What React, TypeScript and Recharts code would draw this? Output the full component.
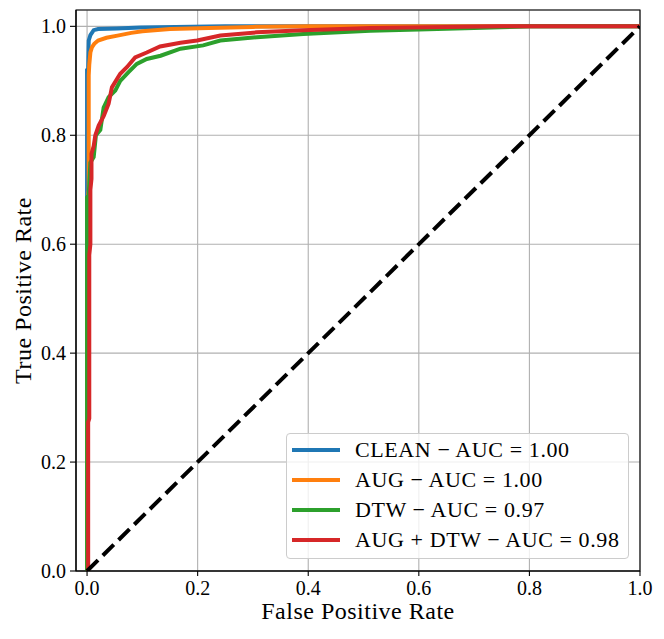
import React from "react";
import {
  CartesianGrid,
  Line,
  LineChart,
  ReferenceArea,
  XAxis,
  YAxis,
} from "recharts";

const FONT = '"Liberation Serif", "Times New Roman", serif';

// ROC points (false positive rate, true positive rate)
const cleanFpr = [0, 0, 0.002, 0.003, 0.006, 0.012, 0.02, 0.054, 0.096, 0.16, 0.25, 1];
const cleanTpr = [0, 0.92, 0.922, 0.974, 0.984, 0.993, 0.995, 0.996, 0.998, 0.999, 1, 1];

const augFpr = [0, 0, 0.001, 0.001, 0.002, 0.002, 0.003, 0.003, 0.004, 0.006, 0.009, 0.013, 0.02, 0.035, 0.055, 0.08, 0.1, 0.15, 0.22, 0.3, 0.4, 1];
const augTpr = [0, 0.5, 0.51, 0.56, 0.57, 0.69, 0.7, 0.91, 0.93, 0.952, 0.962, 0.968, 0.974, 0.979, 0.983, 0.988, 0.991, 0.995, 0.997, 0.999, 1, 1];

const dtwFpr = [0, 0, 0.003, 0.006, 0.012, 0.016, 0.024, 0.03, 0.039, 0.051, 0.06, 0.075, 0.09, 0.108, 0.133, 0.169, 0.21, 0.241, 0.307, 0.391, 0.512, 0.6, 0.7, 0.8, 1];
const dtwTpr = [0, 0.686, 0.69, 0.75, 0.76, 0.8, 0.81, 0.851, 0.87, 0.882, 0.9, 0.916, 0.931, 0.94, 0.946, 0.959, 0.965, 0.974, 0.98, 0.986, 0.992, 0.994, 0.997, 1, 1];

const augDtwFpr = [0, 0.002, 0.002, 0.004, 0.004, 0.006, 0.006, 0.008, 0.008, 0.012, 0.015, 0.021, 0.03, 0.039, 0.045, 0.06, 0.072, 0.087, 0.108, 0.132, 0.169, 0.199, 0.241, 0.307, 0.391, 0.512, 0.65, 0.75, 1];
const augDtwTpr = [0, 0, 0.273, 0.28, 0.58, 0.6, 0.7, 0.72, 0.766, 0.78, 0.8, 0.818, 0.835, 0.858, 0.888, 0.913, 0.925, 0.943, 0.952, 0.963, 0.97, 0.974, 0.983, 0.989, 0.993, 0.997, 0.999, 1, 1];

const chanceFpr = [0, 1];
const chanceTpr = [0, 1];

const seriesNames = [
  "CLEAN − AUC = 1.00",
  "AUG − AUC = 1.00",
  "DTW − AUC = 0.97",
  "AUG + DTW − AUC = 0.98",
];
const seriesColors = ["#1f77b4", "#ff7f0e", "#2ca02c", "#d62728"];

const ticks = [0, 0.2, 0.4, 0.6, 0.8, 1];

const zip = (xs: number[], ys: number[]) => xs.map((x, i) => ({ x, y: ys[i] }));

const series = [
  zip(cleanFpr, cleanTpr),
  zip(augFpr, augTpr),
  zip(dtwFpr, dtwTpr),
  zip(augDtwFpr, augDtwTpr),
];

function RocLegend() {
  return (
    <div
      style={{
        position: "absolute",
        left: 286,
        top: 433,
        width: 343,
        boxSizing: "border-box",
        border: "1px solid #cccccc",
        borderRadius: 4,
        background: "rgba(255,255,255,0.8)",
        padding: "1px 0 3px 0",
        fontFamily: FONT,
        fontSize: 22,
        color: "#000",
      }}
    >
      {seriesNames.map((name, i) => (
        <div key={name} style={{ display: "flex", alignItems: "center", height: 30 }}>
          <div
            style={{
              marginLeft: 5,
              width: 48,
              height: 4,
              background: seriesColors[i],
            }}
          />
          <span style={{ marginLeft: 15, whiteSpace: "nowrap", letterSpacing: 0.6 }}>{name}</span>
        </div>
      ))}
    </div>
  );
}

export default function App() {
  return (
    <div style={{ position: "absolute", left: 0, top: 0, width: 664, height: 639, background: "#fff" }}>
      <LineChart width={664} height={639} margin={{ top: 10, right: 24, bottom: 0, left: 0 }}>
        <CartesianGrid stroke="#b0b0b0" strokeWidth={1.1} />
        <XAxis
          type="number"
          dataKey="x"
          domain={[-0.02, 1]}
          ticks={ticks}
          allowDataOverflow
          height={68}
          tickSize={5}
          tickMargin={5}
          tickFormatter={(v: number) => v.toFixed(1)}
          tick={{ fill: "#000", fontSize: 20, fontFamily: FONT }}
          tickLine={{ stroke: "#000", strokeWidth: 1.1 }}
          axisLine={{ stroke: "#000", strokeWidth: 1.1 }}
          label={{
            value: "False Positive Rate",
            position: "insideBottom",
            offset: 20,
            style: { fill: "#000", fontSize: 24, fontFamily: FONT, letterSpacing: 0.5 },
          }}
        />
        <YAxis
          type="number"
          dataKey="y"
          domain={[0, 1.03]}
          ticks={ticks}
          allowDataOverflow
          width={76}
          tickSize={6}
          tickMargin={4}
          tickFormatter={(v: number) => v.toFixed(1)}
          tick={{ fill: "#000", fontSize: 20, fontFamily: FONT }}
          tickLine={{ stroke: "#000", strokeWidth: 1.1 }}
          axisLine={{ stroke: "#000", strokeWidth: 1.1 }}
          label={{
            value: "True Positive Rate",
            angle: -90,
            position: "insideLeft",
            offset: 22,
            style: { fill: "#000", fontSize: 24, fontFamily: FONT, textAnchor: "middle", letterSpacing: 0.5 },
          }}
        />
        {series.map((data, i) => (
          <Line
            key={seriesNames[i]}
            data={data}
            dataKey="y"
            name={seriesNames[i]}
            type="linear"
            stroke={seriesColors[i]}
            strokeWidth={4}
            dot={false}
            activeDot={false}
            isAnimationActive={false}
          />
        ))}
        <Line
          data={zip(chanceFpr, chanceTpr)}
          dataKey="y"
          type="linear"
          stroke="#000"
          strokeWidth={4}
          strokeDasharray="15.4 6.7"
          dot={false}
          activeDot={false}
          legendType="none"
          isAnimationActive={false}
        />
        <ReferenceArea
          x1={-0.02}
          x2={1}
          y1={0}
          y2={1.03}
          fill="none"
          fillOpacity={0}
          stroke="#000"
          strokeWidth={1.1}
          ifOverflow="visible"
        />
      </LineChart>
      <RocLegend />
    </div>
  );
}
